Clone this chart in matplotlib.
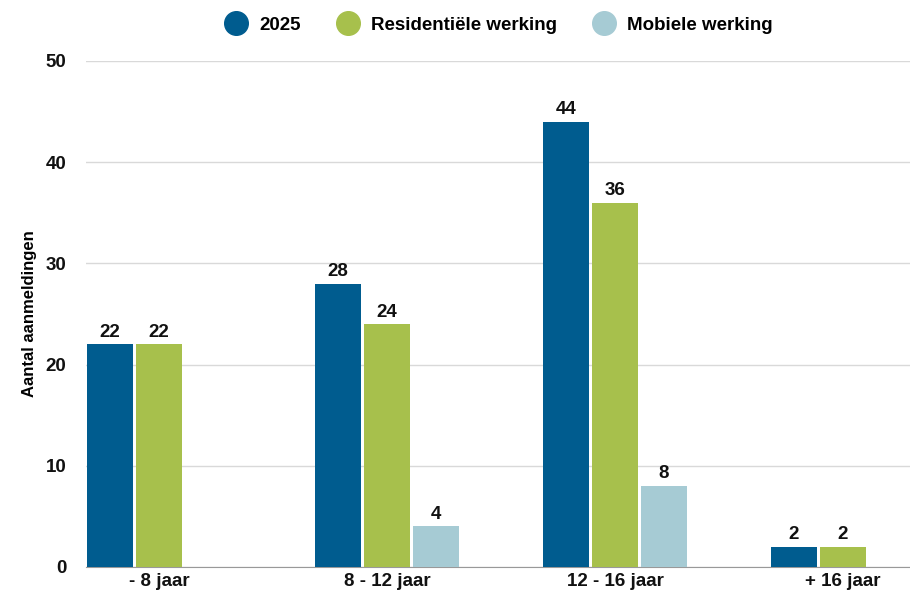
import matplotlib.pyplot as plt
import numpy as np
from matplotlib.lines import Line2D

plt.rcParams['font.family'] = ['Liberation Sans', 'DejaVu Sans']
plt.rcParams['font.weight'] = 'bold'

categories = ['- 8 jaar', '8 - 12 jaar', '12 - 16 jaar', '+ 16 jaar']
series = ['2025', 'Residentiële werking', 'Mobiele werking']
v_2025 = [22, 28, 44, 2]
v_resid = [22, 24, 36, 2]
v_mobiel = [0, 4, 8, 0]
colors = ['#005c8f', '#a7c04c', '#a6cbd4']

fig = plt.figure(figsize=(9.1, 5.94), dpi=100)
ax = fig.add_axes([0.0945, 0.0455, 0.9055, 0.852])

x = np.arange(len(categories))
width = 0.202
step = 0.215

for k, (vals, col) in enumerate(zip([v_2025, v_resid, v_mobiel], colors)):
    pos = x + (k - 1) * step
    for p, v in zip(pos, vals):
        if v == 0:
            continue
        ax.bar(p, v, width, color=col, zorder=3)
        ax.text(p, v + 0.35, str(v), ha='center', va='bottom',
                fontsize=13.5, fontweight='bold', color='#111111')

ax.set_xlim(-0.32, 3.294)
ax.set_ylim(0, 50)
ax.set_yticks(range(0, 51, 10))
ax.yaxis.grid(True, color='#d9d9d9', linewidth=1, zorder=0)
ax.set_axisbelow(True)
for s in ['top', 'right', 'left']:
    ax.spines[s].set_visible(False)
ax.spines['bottom'].set_color('#999999')
ax.tick_params(axis='both', length=0, labelsize=13.5, colors='#111111')
ax.tick_params(axis='y', pad=14)
ax.tick_params(axis='x', pad=4)
ax.set_xticks(x)
ax.set_xticklabels(categories, fontweight='bold')
for lbl in ax.get_yticklabels():
    lbl.set_fontweight('bold')
ax.set_ylabel('Aantal aanmeldingen', fontsize=12, fontweight='bold', labelpad=6)

handles = [Line2D([], [], marker='o', linestyle='', markersize=17,
                  markerfacecolor=c, markeredgecolor=c) for c in colors]
fig.legend(handles, series, loc='upper center', bbox_to_anchor=(0.544, 1.0),
           ncol=3, frameon=False, handletextpad=0.25,
           columnspacing=1.5, prop={'weight': 'bold', 'size': 13.5})

fig.savefig('out.png', dpi=100)
